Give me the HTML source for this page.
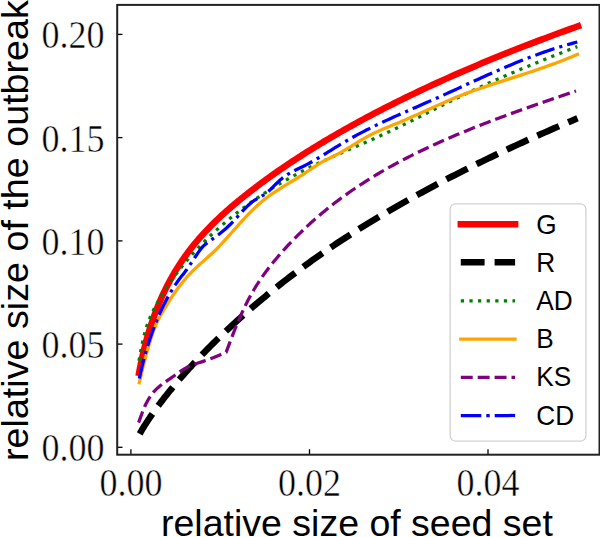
<!DOCTYPE html>
<html><head><meta charset="utf-8"><style>
html,body{margin:0;padding:0;background:#fff;width:600px;height:537px;overflow:hidden}
svg{display:block}
.tk{font-family:"Liberation Serif",serif;font-size:39px;fill:#000;stroke:#fff;stroke-width:0.5px}
.lb{font-family:"Liberation Sans",sans-serif;font-size:37.5px;fill:#000}
.lg{font-family:"Liberation Sans",sans-serif;font-size:27.3px;fill:#000}
</style></head><body>
<svg width="600" height="537" viewBox="0 0 600 537">
<rect x="0" y="0" width="600" height="537" fill="#fff"/>
<!-- ticks -->
<g stroke="#000" stroke-width="1.3">
<line x1="117" y1="447.3" x2="122.5" y2="447.3"/>
<line x1="117" y1="344.1" x2="122.5" y2="344.1"/>
<line x1="117" y1="240.9" x2="122.5" y2="240.9"/>
<line x1="117" y1="137.6" x2="122.5" y2="137.6"/>
<line x1="117" y1="34.4" x2="122.5" y2="34.4"/>
<line x1="130.9" y1="454.7" x2="130.9" y2="449.2"/>
<line x1="309.5" y1="454.7" x2="309.5" y2="449.2"/>
<line x1="488" y1="454.7" x2="488" y2="449.2"/>
</g>
<!-- tick labels -->
<g class="tk" text-anchor="end">
<text transform="translate(104.6,461.2) scale(0.924,1)">0.00</text>
<text transform="translate(104.6,358.0) scale(0.924,1)">0.05</text>
<text transform="translate(104.6,254.8) scale(0.924,1)">0.10</text>
<text transform="translate(104.6,151.5) scale(0.924,1)">0.15</text>
<text transform="translate(104.6,48.3) scale(0.924,1)">0.20</text>
</g>
<g class="tk" text-anchor="middle">
<text transform="translate(130.9,495.5) scale(0.924,1)">0.00</text>
<text transform="translate(309.5,495.5) scale(0.924,1)">0.02</text>
<text transform="translate(488.0,495.5) scale(0.924,1)">0.04</text>
</g>
<text class="lb" x="161" y="535.5">relative size of seed set</text>
<text class="lb" style="font-size:37.7px" transform="translate(27.6,461) rotate(-90)">relative size of the outbreak</text>
<!-- curves -->
<g id="curves" fill="none" stroke-linejoin="round">
<path d="M139.11,372.80 L139.52,370.55 L140.00,368.03 L140.49,365.52 L141.00,363.03 L141.52,360.57 L142.05,358.11 L142.59,355.68 L143.15,353.26 L143.72,350.86 L144.30,348.47 L144.90,346.10 L145.51,343.75 L146.13,341.42 L146.77,339.10 L147.42,336.80 L148.08,334.51 L148.75,332.24 L149.44,329.99 L150.14,327.76 L150.85,325.54 L151.58,323.33 L152.32,321.15 L153.07,318.98 L153.84,316.83 L154.61,314.69 L155.41,312.57 L156.21,310.46 L157.03,308.37 L157.86,306.30 L158.70,304.24 L159.56,302.20 L160.42,300.18 L161.31,298.17 L162.20,296.18 L163.11,294.20 L164.03,292.24 L164.97,290.29 L165.91,288.36 L166.87,286.45 L167.84,284.55 L168.83,282.66 L169.83,280.80 L170.84,278.94 L171.87,277.11 L172.90,275.28 L173.96,273.48 L175.02,271.69 L176.10,269.91 L177.19,268.15 L178.29,266.40 L179.40,264.67 L180.53,262.96 L181.67,261.25 L182.83,259.56 L184.00,257.89 L185.18,256.22 L186.37,254.57 L187.58,252.93 L188.80,251.31 L190.03,249.69 L191.28,248.09 L192.53,246.50 L193.81,244.92 L195.09,243.35 L196.39,241.79 L197.70,240.24 L199.02,238.70 L200.36,237.17 L201.71,235.65 L203.07,234.14 L204.45,232.64 L205.83,231.15 L207.24,229.66 L208.65,228.19 L210.08,226.72 L211.52,225.26 L212.97,223.80 L214.44,222.36 L215.92,220.91 L217.41,219.48 L218.91,218.05 L220.43,216.63 L221.96,215.21 L223.51,213.80 L225.07,212.39 L226.64,210.99 L228.22,209.59 L229.81,208.20 L231.42,206.81 L233.05,205.43 L234.68,204.04 L236.33,202.66 L237.99,201.29 L239.66,199.91 L241.35,198.54 L243.05,197.17 L244.76,195.80 L246.49,194.43 L248.23,193.07 L249.98,191.70 L251.75,190.33 L253.52,188.97 L255.31,187.61 L257.12,186.24 L258.94,184.88 L260.76,183.52 L262.61,182.16 L264.46,180.79 L266.33,179.43 L268.21,178.07 L270.11,176.71 L272.02,175.36 L273.94,174.00 L275.87,172.64 L277.82,171.28 L279.78,169.93 L281.75,168.57 L283.74,167.22 L285.73,165.86 L287.75,164.51 L289.77,163.16 L291.81,161.81 L293.86,160.45 L295.92,159.10 L298.00,157.76 L300.09,156.41 L302.19,155.06 L304.31,153.71 L306.43,152.37 L308.58,151.02 L310.73,149.68 L312.90,148.33 L315.08,146.99 L317.27,145.65 L319.48,144.31 L321.70,142.97 L323.93,141.63 L326.17,140.29 L328.43,138.95 L330.70,137.61 L332.99,136.28 L335.29,134.94 L337.60,133.61 L339.92,132.28 L342.25,130.95 L344.60,129.62 L346.97,128.29 L349.34,126.96 L351.73,125.63 L354.13,124.30 L356.54,122.98 L358.97,121.65 L361.41,120.33 L363.86,119.01 L366.33,117.69 L368.81,116.37 L371.30,115.05 L373.81,113.73 L376.32,112.42 L378.85,111.10 L381.40,109.79 L383.96,108.47 L386.53,107.16 L389.11,105.85 L391.70,104.54 L394.31,103.23 L396.93,101.93 L399.57,100.62 L402.22,99.32 L404.88,98.01 L407.55,96.71 L410.24,95.41 L412.94,94.11 L415.65,92.82 L418.38,91.52 L421.11,90.22 L423.87,88.93 L426.63,87.64 L429.41,86.35 L432.20,85.06 L435.00,83.77 L437.82,82.48 L440.65,81.20 L443.49,79.91 L446.35,78.63 L449.22,77.35 L452.10,76.07 L454.99,74.79 L457.90,73.52 L460.82,72.24 L463.75,70.97 L466.70,69.70 L469.66,68.43 L472.63,67.16 L475.62,65.89 L478.61,64.62 L481.63,63.36 L484.65,62.10 L487.69,60.84 L490.74,59.58 L493.80,58.32 L496.88,57.06 L499.97,55.81 L503.07,54.56 L506.18,53.31 L509.31,52.06 L512.45,50.81 L515.61,49.56 L518.77,48.32 L521.95,47.08 L525.15,45.83 L528.35,44.60 L531.57,43.36 L534.80,42.12 L538.05,40.89 L541.31,39.66 L544.58,38.43 L547.86,37.20 L551.16,35.97 L554.47,34.75 L557.79,33.52 L561.13,32.30 L564.47,31.08 L567.84,29.87 L571.21,28.65 L574.60,27.44 L578.00,26.23" stroke="#ff0000" stroke-width="6.5" stroke-linecap="square"/>
<path d="M139.71,433.80 L140.15,433.03 L140.64,432.17 L141.15,431.29 L141.67,430.41 L142.20,429.51 L142.74,428.60 L143.30,427.69 L143.87,426.76 L144.45,425.82 L145.05,424.87 L145.66,423.91 L146.28,422.95 L146.91,421.97 L147.56,420.98 L148.22,419.98 L148.89,418.97 L149.58,417.95 L150.28,416.92 L150.99,415.89 L151.71,414.84 L152.45,413.78 L153.20,412.72 L153.96,411.64 L154.74,410.56 L155.52,409.46 L156.33,408.36 L157.14,407.25 L157.97,406.13 L158.81,405.00 L159.66,403.87 L160.52,402.72 L161.40,401.57 L162.29,400.41 L163.19,399.24 L164.11,398.06 L165.04,396.87 L165.98,395.68 L166.94,394.47 L167.90,393.26 L168.88,392.05 L169.88,390.82 L170.88,389.59 L171.90,388.35 L172.93,387.10 L173.98,385.85 L175.04,384.59 L176.11,383.32 L177.19,382.04 L178.28,380.76 L179.39,379.47 L180.51,378.17 L181.65,376.87 L182.79,375.56 L183.95,374.24 L185.13,372.92 L186.31,371.59 L187.51,370.26 L188.72,368.92 L189.95,367.57 L191.18,366.22 L192.43,364.86 L193.69,363.50 L194.97,362.13 L196.26,360.75 L197.56,359.37 L198.87,357.99 L200.20,356.60 L201.54,355.20 L202.89,353.80 L204.25,352.39 L205.63,350.98 L207.02,349.56 L208.43,348.14 L209.84,346.72 L211.27,345.29 L212.71,343.85 L214.17,342.42 L215.63,340.97 L217.11,339.53 L218.61,338.07 L220.11,336.62 L221.63,335.16 L223.16,333.70 L224.71,332.23 L226.26,330.76 L227.83,329.29 L229.42,327.81 L231.01,326.33 L232.62,324.84 L234.24,323.36 L235.88,321.86 L237.52,320.37 L239.18,318.88 L240.86,317.38 L242.54,315.87 L244.24,314.37 L245.95,312.86 L247.67,311.35 L249.41,309.84 L251.16,308.33 L252.92,306.81 L254.70,305.29 L256.48,303.77 L258.28,302.25 L260.10,300.72 L261.92,299.20 L263.76,297.67 L265.62,296.14 L267.48,294.61 L269.36,293.07 L271.25,291.54 L273.15,290.01 L275.07,288.47 L277.00,286.93 L278.94,285.39 L280.89,283.85 L282.86,282.31 L284.84,280.77 L286.83,279.23 L288.84,277.69 L290.86,276.15 L292.89,274.61 L294.93,273.06 L296.99,271.52 L299.06,269.98 L301.14,268.43 L303.24,266.89 L305.34,265.35 L307.47,263.81 L309.60,262.26 L311.75,260.72 L313.91,259.18 L316.08,257.64 L318.26,256.10 L320.46,254.56 L322.67,253.03 L324.89,251.49 L327.13,249.95 L329.38,248.42 L331.64,246.88 L333.92,245.35 L336.20,243.82 L338.51,242.29 L340.82,240.76 L343.14,239.24 L345.48,237.71 L347.84,236.19 L350.20,234.66 L352.58,233.14 L354.97,231.62 L357.37,230.10 L359.79,228.58 L362.21,227.07 L364.66,225.55 L367.11,224.04 L369.58,222.53 L372.06,221.01 L374.55,219.50 L377.06,217.99 L379.57,216.49 L382.11,214.98 L384.65,213.47 L387.21,211.97 L389.78,210.47 L392.36,208.97 L394.95,207.47 L397.56,205.97 L400.18,204.47 L402.82,202.97 L405.46,201.48 L408.12,199.98 L410.79,198.49 L413.48,197.00 L416.18,195.51 L418.89,194.02 L421.61,192.53 L424.35,191.05 L427.10,189.56 L429.86,188.08 L432.63,186.59 L435.42,185.11 L438.22,183.63 L441.03,182.15 L443.86,180.68 L446.70,179.20 L449.55,177.72 L452.41,176.25 L455.29,174.78 L458.18,173.31 L461.08,171.84 L464.00,170.37 L466.93,168.90 L469.87,167.43 L472.82,165.97 L475.79,164.50 L478.77,163.04 L481.76,161.58 L484.77,160.12 L487.79,158.66 L490.82,157.20 L493.86,155.74 L496.92,154.29 L499.99,152.83 L503.07,151.38 L506.17,149.93 L509.27,148.48 L512.39,147.03 L515.53,145.58 L518.67,144.14 L521.83,142.69 L525.00,141.25 L528.19,139.80 L531.39,138.36 L534.60,136.92 L537.82,135.48 L541.06,134.04 L544.31,132.60 L547.57,131.17 L550.84,129.73 L554.13,128.30 L557.43,126.87 L560.74,125.44 L564.07,124.01 L567.41,122.58 L570.76,121.15 L574.12,119.73 L577.50,118.30" stroke="#000000" stroke-width="6.5" stroke-dasharray="23.6 10.0"/>
<path d="M139.00,360.80 L139.41,358.40 L139.89,355.71 L140.38,353.02 L140.88,350.35 L141.40,347.70 L141.93,345.09 L142.47,342.53 L143.02,340.03 L143.59,337.60 L144.17,335.25 L144.77,332.98 L145.37,330.81 L145.99,328.72 L146.62,326.71 L147.27,324.78 L147.93,322.92 L148.60,321.12 L149.28,319.37 L149.98,317.68 L150.69,316.03 L151.42,314.42 L152.15,312.84 L152.90,311.29 L153.66,309.77 L154.44,308.25 L155.23,306.75 L156.03,305.25 L156.84,303.75 L157.67,302.26 L158.51,300.76 L159.36,299.27 L160.23,297.79 L161.11,296.30 L162.00,294.82 L162.91,293.35 L163.83,291.87 L164.76,290.40 L165.70,288.93 L166.66,287.46 L167.63,285.99 L168.61,284.53 L169.61,283.07 L170.62,281.62 L171.64,280.16 L172.67,278.71 L173.72,277.26 L174.78,275.81 L175.86,274.37 L176.94,272.93 L178.04,271.49 L179.16,270.05 L180.28,268.62 L181.42,267.19 L182.57,265.76 L183.74,264.33 L184.92,262.91 L186.11,261.49 L187.31,260.07 L188.53,258.65 L189.76,257.24 L191.00,255.83 L192.26,254.42 L193.53,253.01 L194.81,251.61 L196.10,250.21 L197.41,248.81 L198.73,247.41 L200.07,246.02 L201.41,244.63 L202.77,243.24 L204.14,241.86 L205.53,240.48 L206.93,239.10 L208.34,237.73 L209.77,236.36 L211.20,234.99 L212.65,233.62 L214.12,232.26 L215.59,230.91 L217.08,229.55 L218.59,228.21 L220.10,226.86 L221.63,225.52 L223.17,224.18 L224.73,222.85 L226.29,221.52 L227.87,220.20 L229.47,218.87 L231.07,217.56 L232.69,216.25 L234.33,214.94 L235.97,213.64 L237.63,212.34 L239.30,211.05 L240.98,209.76 L242.68,208.48 L244.39,207.20 L246.12,205.92 L247.85,204.66 L249.60,203.39 L251.36,202.13 L253.14,200.88 L254.93,199.63 L256.73,198.39 L258.54,197.16 L260.37,195.93 L262.21,194.70 L264.06,193.48 L265.93,192.27 L267.81,191.06 L269.70,189.86 L271.61,188.66 L273.52,187.47 L275.45,186.29 L277.40,185.11 L279.36,183.94 L281.33,182.78 L283.31,181.62 L285.30,180.47 L287.31,179.33 L289.34,178.19 L291.37,177.06 L293.42,175.93 L295.48,174.81 L297.55,173.70 L299.64,172.60 L301.74,171.50 L303.85,170.41 L305.98,169.33 L308.12,168.26 L310.27,167.19 L312.43,166.13 L314.61,165.08 L316.80,164.03 L319.01,162.99 L321.22,161.96 L323.45,160.92 L325.70,159.90 L327.95,158.87 L330.22,157.85 L332.50,156.82 L334.80,155.80 L337.10,154.78 L339.42,153.76 L341.76,152.73 L344.10,151.71 L346.46,150.67 L348.84,149.64 L351.22,148.60 L353.62,147.56 L356.03,146.51 L358.46,145.45 L360.89,144.38 L363.34,143.31 L365.81,142.23 L368.28,141.13 L370.77,140.03 L373.28,138.91 L375.79,137.79 L378.32,136.65 L380.86,135.50 L383.42,134.33 L385.98,133.15 L388.56,131.95 L391.16,130.73 L393.76,129.50 L396.38,128.25 L399.01,126.98 L401.66,125.70 L404.32,124.40 L406.99,123.09 L409.67,121.76 L412.37,120.42 L415.08,119.06 L417.80,117.70 L420.54,116.32 L423.29,114.94 L426.05,113.54 L428.83,112.14 L431.61,110.74 L434.41,109.32 L437.23,107.91 L440.06,106.48 L442.90,105.06 L445.75,103.63 L448.61,102.20 L451.49,100.78 L454.39,99.35 L457.29,97.92 L460.21,96.50 L463.14,95.08 L466.08,93.66 L469.04,92.25 L472.01,90.84 L474.99,89.44 L477.99,88.05 L481.00,86.66 L484.02,85.28 L487.05,83.90 L490.10,82.53 L493.16,81.16 L496.24,79.80 L499.32,78.44 L502.42,77.09 L505.54,75.74 L508.66,74.39 L511.80,73.05 L514.95,71.71 L518.12,70.37 L521.29,69.04 L524.48,67.71 L527.69,66.38 L530.90,65.06 L534.13,63.73 L537.38,62.41 L540.63,61.09 L543.90,59.77 L547.18,58.46 L550.48,57.14 L553.78,55.83 L557.10,54.51 L560.44,53.20 L563.78,51.89 L567.14,50.57 L570.52,49.26 L573.90,47.95 L577.30,46.63" stroke="#008000" stroke-width="3.25" stroke-dasharray="3.25 5.36"/>
<path d="M139.30,382.80 L139.46,382.13 L139.94,380.15 L140.43,378.12 L140.93,376.03 L141.44,373.89 L141.97,371.71 L142.51,369.49 L143.06,367.23 L143.63,364.95 L144.21,362.65 L144.80,360.32 L145.40,357.99 L146.02,355.64 L146.65,353.29 L147.30,350.94 L147.95,348.60 L148.62,346.27 L149.30,343.96 L150.00,341.67 L150.70,339.40 L151.42,337.17 L152.16,334.97 L152.90,332.81 L153.66,330.70 L154.43,328.64 L155.22,326.64 L156.02,324.70 L156.83,322.82 L157.65,321.02 L158.49,319.29 L159.33,317.63 L160.20,316.02 L161.07,314.46 L161.96,312.93 L162.86,311.40 L163.77,309.88 L164.70,308.34 L165.64,306.79 L166.59,305.23 L167.55,303.66 L168.53,302.08 L169.52,300.51 L170.53,298.95 L171.54,297.39 L172.57,295.84 L173.61,294.30 L174.67,292.77 L175.74,291.25 L176.82,289.74 L177.91,288.25 L179.02,286.77 L180.13,285.30 L181.27,283.85 L182.41,282.42 L183.57,281.00 L184.74,279.59 L185.92,278.21 L187.12,276.84 L188.33,275.50 L189.55,274.17 L190.79,272.87 L192.03,271.59 L193.29,270.32 L194.57,269.09 L195.85,267.87 L197.15,266.66 L198.47,265.47 L199.79,264.28 L201.13,263.10 L202.48,261.91 L203.84,260.71 L205.22,259.50 L206.61,258.27 L208.01,257.03 L209.43,255.75 L210.85,254.45 L212.29,253.11 L213.75,251.73 L215.21,250.31 L216.69,248.84 L218.19,247.32 L219.69,245.75 L221.21,244.14 L222.74,242.49 L224.28,240.81 L225.84,239.09 L227.41,237.34 L228.99,235.57 L230.59,233.78 L232.20,231.97 L233.82,230.14 L235.45,228.31 L237.10,226.46 L238.76,224.62 L240.43,222.77 L242.11,220.92 L243.81,219.09 L245.52,217.26 L247.25,215.45 L248.98,213.65 L250.73,211.88 L252.50,210.13 L254.27,208.40 L256.06,206.71 L257.86,205.06 L259.67,203.44 L261.50,201.87 L263.34,200.34 L265.19,198.87 L267.06,197.43 L268.94,196.04 L270.83,194.69 L272.73,193.37 L274.65,192.07 L276.58,190.81 L278.52,189.56 L280.48,188.32 L282.44,187.10 L284.42,185.89 L286.42,184.67 L288.43,183.46 L290.45,182.23 L292.48,181.00 L294.52,179.75 L296.58,178.49 L298.65,177.19 L300.74,175.87 L302.83,174.52 L304.94,173.13 L307.07,171.70 L309.20,170.25 L311.35,168.79 L313.51,167.33 L315.69,165.91 L317.87,164.52 L320.07,163.19 L322.29,161.93 L324.51,160.73 L326.75,159.57 L329.00,158.43 L331.26,157.31 L333.54,156.18 L335.83,155.03 L338.13,153.83 L340.45,152.59 L342.78,151.28 L345.12,149.91 L347.47,148.50 L349.84,147.06 L352.22,145.59 L354.61,144.11 L357.02,142.63 L359.44,141.16 L361.87,139.70 L364.31,138.28 L366.77,136.89 L369.24,135.56 L371.72,134.28 L374.22,133.06 L376.73,131.88 L379.25,130.74 L381.78,129.63 L384.33,128.54 L386.89,127.47 L389.47,126.42 L392.05,125.36 L394.65,124.30 L397.26,123.23 L399.89,122.14 L402.52,121.02 L405.17,119.88 L407.84,118.72 L410.51,117.54 L413.20,116.34 L415.90,115.12 L418.62,113.90 L421.34,112.66 L424.08,111.41 L426.84,110.16 L429.60,108.91 L432.38,107.65 L435.17,106.39 L437.98,105.14 L440.80,103.89 L443.63,102.65 L446.47,101.41 L449.33,100.19 L452.19,98.99 L455.08,97.80 L457.97,96.62 L460.88,95.47 L463.80,94.34 L466.73,93.23 L469.68,92.14 L472.64,91.07 L475.61,90.01 L478.59,88.96 L481.59,87.93 L484.60,86.90 L487.62,85.89 L490.66,84.88 L493.71,83.88 L496.77,82.88 L499.85,81.88 L502.93,80.89 L506.03,79.89 L509.15,78.89 L512.27,77.89 L515.41,76.88 L518.57,75.86 L521.73,74.83 L524.91,73.80 L528.10,72.75 L531.30,71.68 L534.52,70.60 L537.75,69.50 L540.99,68.39 L544.24,67.25 L547.51,66.09 L550.79,64.90 L554.09,63.69 L557.39,62.46 L560.71,61.19 L564.04,59.89 L567.39,58.57 L570.75,57.20 L574.12,55.81 L577.50,54.37" stroke="#ffa500" stroke-width="3.25" stroke-linecap="square"/>
<path d="M138.60,422.58 L139.36,420.55 L140.15,418.37 L140.98,416.08 L141.84,413.73 L142.74,411.35 L143.67,409.00 L144.64,406.72 L145.65,404.53 L146.69,402.44 L147.77,400.45 L148.88,398.56 L150.02,396.77 L151.21,395.07 L152.42,393.47 L153.68,391.96 L154.97,390.54 L156.29,389.19 L157.65,387.91 L159.05,386.69 L160.48,385.51 L161.94,384.37 L163.45,383.25 L164.98,382.15 L166.56,381.06 L168.17,379.96 L169.81,378.84 L171.49,377.70 L173.20,376.52 L174.95,375.29 L176.74,374.00 L178.56,372.69 L180.42,371.38 L182.31,370.10 L184.24,368.90 L186.20,367.80 L188.20,366.81 L190.23,365.90 L192.30,365.06 L194.41,364.28 L196.55,363.54 L198.72,362.81 L200.93,362.09 L203.18,361.35 L205.46,360.57 L207.78,359.76 L210.14,358.89 L212.52,357.98 L214.95,357.02 L217.41,356.01 L219.90,354.95 L222.43,353.84 L225.00,352.69 L226.21,352.17 L227.42,348.88 L228.64,345.60 L229.87,342.34 L231.10,339.09 L232.35,335.87 L233.60,332.67 L234.86,329.51 L236.13,326.38 L237.40,323.29 L238.68,320.26 L239.97,317.27 L241.27,314.33 L242.58,311.46 L243.89,308.64 L245.21,305.90 L246.54,303.22 L247.87,300.61 L249.22,298.07 L250.57,295.58 L251.93,293.15 L253.29,290.78 L254.67,288.47 L256.05,286.21 L257.44,283.99 L258.84,281.83 L260.24,279.71 L261.66,277.63 L263.08,275.59 L264.50,273.59 L265.94,271.63 L267.38,269.70 L268.83,267.80 L270.29,265.93 L271.76,264.08 L273.23,262.26 L274.71,260.47 L276.20,258.69 L277.70,256.93 L279.21,255.18 L280.72,253.45 L282.24,251.73 L283.77,250.02 L285.30,248.33 L286.85,246.64 L288.40,244.97 L289.95,243.31 L291.52,241.67 L293.09,240.03 L294.68,238.41 L296.27,236.80 L297.86,235.20 L299.47,233.62 L301.08,232.04 L302.70,230.48 L304.33,228.92 L305.96,227.38 L307.60,225.85 L309.25,224.33 L310.91,222.83 L312.58,221.33 L314.25,219.84 L315.93,218.37 L317.62,216.90 L319.32,215.45 L321.02,214.01 L322.74,212.57 L324.46,211.15 L326.18,209.74 L327.92,208.34 L329.66,206.95 L331.41,205.56 L333.17,204.19 L334.93,202.83 L336.71,201.48 L338.49,200.14 L340.28,198.80 L342.07,197.48 L343.88,196.16 L345.69,194.86 L347.51,193.56 L349.34,192.28 L351.17,191.00 L353.01,189.73 L354.86,188.47 L356.72,187.22 L358.59,185.98 L360.46,184.74 L362.34,183.52 L364.23,182.30 L366.12,181.09 L368.03,179.89 L369.94,178.70 L371.86,177.51 L373.79,176.34 L375.72,175.17 L377.66,174.01 L379.61,172.86 L381.57,171.71 L383.53,170.57 L385.51,169.44 L387.49,168.32 L389.48,167.20 L391.47,166.09 L393.48,164.99 L395.49,163.89 L397.51,162.80 L399.53,161.72 L401.57,160.64 L403.61,159.57 L405.66,158.51 L407.71,157.45 L409.78,156.40 L411.85,155.36 L413.93,154.32 L416.02,153.28 L418.12,152.26 L420.22,151.23 L422.33,150.22 L424.45,149.21 L426.57,148.20 L428.71,147.20 L430.85,146.20 L433.00,145.21 L435.16,144.23 L437.32,143.25 L439.49,142.27 L441.67,141.30 L443.86,140.33 L446.06,139.37 L448.26,138.41 L450.47,137.45 L452.69,136.50 L454.91,135.56 L457.15,134.61 L459.39,133.67 L461.64,132.74 L463.90,131.81 L466.16,130.88 L468.43,129.95 L470.71,129.03 L473.00,128.11 L475.29,127.20 L477.60,126.29 L479.91,125.38 L482.23,124.47 L484.55,123.56 L486.89,122.66 L489.23,121.76 L491.58,120.87 L493.93,119.97 L496.30,119.08 L498.67,118.19 L501.05,117.30 L503.43,116.41 L505.83,115.53 L508.23,114.64 L510.64,113.76 L513.06,112.88 L515.49,112.00 L517.92,111.12 L520.36,110.25 L522.81,109.37 L525.26,108.49 L527.73,107.62 L530.20,106.75 L532.68,105.87 L535.17,105.00 L537.66,104.13 L540.16,103.26 L542.67,102.39 L545.19,101.51 L547.72,100.64 L550.25,99.77 L552.79,98.90 L555.34,98.03 L557.89,97.15 L560.46,96.28 L563.03,95.41 L565.61,94.53 L568.19,93.66 L570.79,92.78 L573.39,91.90 L576.00,91.02" stroke="#800080" stroke-width="3.25" stroke-dasharray="11.8 5.0"/>
<path d="M139.34,378.50 L139.77,376.47 L140.26,374.23 L140.75,372.00 L141.27,369.77 L141.79,367.54 L142.33,365.33 L142.87,363.12 L143.44,360.91 L144.01,358.72 L144.60,356.53 L145.20,354.34 L145.81,352.17 L146.44,350.00 L147.08,347.85 L147.73,345.70 L148.40,343.56 L149.08,341.44 L149.77,339.32 L150.47,337.21 L151.19,335.12 L151.92,333.04 L152.66,330.97 L153.42,328.91 L154.19,326.86 L154.97,324.83 L155.76,322.81 L156.57,320.81 L157.39,318.82 L158.22,316.85 L159.07,314.89 L159.93,312.95 L160.80,311.03 L161.69,309.13 L162.58,307.24 L163.49,305.37 L164.42,303.53 L165.35,301.70 L166.30,299.89 L167.26,298.11 L168.24,296.34 L169.23,294.60 L170.23,292.88 L171.24,291.19 L172.27,289.52 L173.31,287.87 L174.36,286.25 L175.43,284.65 L176.50,283.08 L177.59,281.54 L178.70,280.02 L179.82,278.54 L180.95,277.07 L182.09,275.61 L183.24,274.14 L184.41,272.63 L185.59,271.07 L186.79,269.42 L188.00,267.71 L189.22,265.94 L190.45,264.12 L191.69,262.25 L192.95,260.36 L194.22,258.45 L195.51,256.52 L196.81,254.60 L198.12,252.69 L199.44,250.81 L200.78,249.01 L202.13,247.36 L203.49,245.91 L204.86,244.69 L206.25,243.61 L207.65,242.56 L209.06,241.52 L210.49,240.48 L211.93,239.44 L213.38,238.38 L214.85,237.31 L216.33,236.22 L217.82,235.10 L219.32,233.95 L220.84,232.76 L222.37,231.52 L223.91,230.24 L225.46,228.90 L227.03,227.50 L228.61,226.03 L230.21,224.50 L231.82,222.88 L233.44,221.19 L235.07,219.42 L236.71,217.60 L238.37,215.75 L240.04,213.89 L241.73,212.03 L243.43,210.19 L245.14,208.40 L246.86,206.66 L248.60,205.01 L250.34,203.46 L252.11,202.03 L253.88,200.74 L255.67,199.59 L257.47,198.54 L259.28,197.53 L261.11,196.51 L262.95,195.44 L264.80,194.24 L266.67,192.87 L268.54,191.29 L270.43,189.53 L272.34,187.65 L274.25,185.71 L276.18,183.76 L278.13,181.85 L280.08,180.05 L282.05,178.40 L284.03,176.88 L286.03,175.49 L288.03,174.20 L290.05,173.00 L292.08,171.88 L294.13,170.81 L296.19,169.78 L298.26,168.77 L300.34,167.76 L302.44,166.75 L304.55,165.70 L306.67,164.61 L308.81,163.47 L310.96,162.29 L313.12,161.07 L315.30,159.81 L317.48,158.52 L319.68,157.21 L321.90,155.86 L324.12,154.50 L326.36,153.12 L328.61,151.72 L330.88,150.32 L333.16,148.91 L335.45,147.49 L337.75,146.08 L340.07,144.67 L342.40,143.26 L344.74,141.87 L347.09,140.50 L349.46,139.14 L351.84,137.80 L354.24,136.48 L356.64,135.17 L359.06,133.87 L361.50,132.59 L363.94,131.33 L366.40,130.07 L368.87,128.83 L371.36,127.59 L373.85,126.37 L376.36,125.15 L378.89,123.95 L381.42,122.75 L383.97,121.55 L386.53,120.36 L389.11,119.18 L391.69,118.00 L394.29,116.82 L396.91,115.64 L399.53,114.47 L402.17,113.29 L404.82,112.12 L407.49,110.94 L410.17,109.76 L412.86,108.58 L415.56,107.40 L418.28,106.21 L421.01,105.01 L423.75,103.81 L426.50,102.60 L429.27,101.38 L432.05,100.16 L434.84,98.92 L437.65,97.67 L440.47,96.41 L443.30,95.14 L446.15,93.86 L449.01,92.57 L451.88,91.26 L454.76,89.94 L457.66,88.62 L460.57,87.28 L463.49,85.94 L466.43,84.59 L469.38,83.24 L472.34,81.88 L475.31,80.52 L478.30,79.16 L481.30,77.80 L484.31,76.44 L487.34,75.08 L490.38,73.72 L493.43,72.37 L496.49,71.02 L499.57,69.68 L502.66,68.35 L505.76,67.02 L508.88,65.70 L512.01,64.39 L515.15,63.10 L518.31,61.81 L521.47,60.54 L524.65,59.29 L527.85,58.05 L531.05,56.82 L534.27,55.62 L537.51,54.43 L540.75,53.26 L544.01,52.12 L547.28,50.99 L550.56,49.89 L553.86,48.81 L557.17,47.76 L560.49,46.74 L563.83,45.74 L567.18,44.77 L570.54,43.83 L573.91,42.93 L577.30,42.05" stroke="#0000ff" stroke-width="3.25" stroke-dasharray="20.2 5.05 3.15 5.05"/>
</g>
<!-- legend -->
<rect x="450.2" y="203.8" width="135.7" height="237.4" rx="5.5" fill="#fff" fill-opacity="0.8" stroke="#d2d2d2" stroke-width="1.3"/>
<g fill="none">
<line x1="460.8" y1="224.3" x2="515.1" y2="224.3" stroke="#ff0000" stroke-width="6.5" stroke-linecap="square"/>
<line x1="460.8" y1="262.3" x2="515.1" y2="262.3" stroke="#000" stroke-width="6.5" stroke-dasharray="23.8 10.0"/>
<line x1="460.8" y1="300.85" x2="515.1" y2="300.85" stroke="#008000" stroke-width="3.25" stroke-dasharray="3.25 5.36"/>
<line x1="460.8" y1="339" x2="515.1" y2="339" stroke="#ffa500" stroke-width="3.25" stroke-linecap="square"/>
<line x1="460.8" y1="377.25" x2="515.1" y2="377.25" stroke="#800080" stroke-width="3.25" stroke-dasharray="11.9 5.0"/>
<line x1="460.8" y1="415.5" x2="515.1" y2="415.5" stroke="#0000ff" stroke-width="3.25" stroke-dasharray="20.5 5.0 3.4 5.0"/>
</g>
<g class="lg">
<text transform="translate(536.3,233.5) scale(0.96,1)">G</text>
<text transform="translate(536.3,271.5) scale(0.96,1)">R</text>
<text transform="translate(536.3,310.1) scale(0.96,1)">AD</text>
<text transform="translate(536.3,348.3) scale(0.96,1)">B</text>
<text transform="translate(536.3,386.4) scale(0.96,1)">KS</text>
<text transform="translate(536.3,424.8) scale(0.96,1)">CD</text>
</g>
<!-- frame -->
<rect x="117.2" y="4.9" width="482.3" height="449.8" fill="none" stroke="#222" stroke-width="2"/>
</svg>
</body></html>
